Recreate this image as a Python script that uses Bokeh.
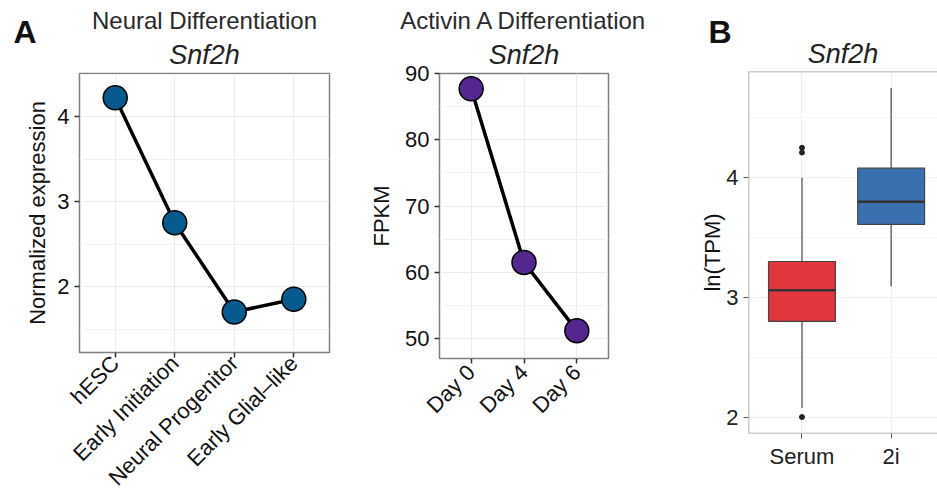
import numpy as np
from bokeh.plotting import figure
from bokeh.layouts import row
from bokeh.models import Range1d, FixedTicker, Span, Title
from bokeh.embed import file_html
from bokeh.resources import INLINE

# ---------------- data ----------------
neural_stages = ["hESC", "Early Initiation", "Neural Progenitor", "Early Glial\u2013like"]
neural_expr = [4.22, 2.75, 1.70, 1.85]
neural_yticks = [2, 3, 4]
neural_yminor = [1.5, 2.5, 3.5, 4.5]

activin_days = ["Day 0", "Day 4", "Day 6"]
activin_fpkm = [87.7, 61.5, 51.2]
activin_yticks = [50, 60, 70, 80, 90]
activin_yminor = [45, 55, 65, 75, 85]

conditions = ["Serum", "2i"]
box_q1 = [2.80, 3.61]
box_median = [3.06, 3.80]
box_q3 = [3.30, 4.08]
whisker_low = [2.075, 3.09]
whisker_high = [4.00, 4.75]
outlier_condition = ["Serum", "Serum", "Serum"]
outlier_value = [4.25, 4.21, 2.00]
box_yticks = [2, 3, 4]
box_yminor = [2.5, 3.5, 4.5]
box_colors = ["#e0363c", "#3a6fb0"]

FONT = "Liberation Sans"
TICK_SIZE = "22px"


def style(p, border="#7f7f7f", grid="#ebebeb", minor="#f2f2f2", tickcol="#333333"):
    p.background_fill_color = "white"
    p.border_fill_color = "white"
    p.outline_line_color = border
    p.outline_line_width = 1.5
    p.xgrid.grid_line_color = grid
    p.ygrid.grid_line_color = grid
    p.ygrid.minor_grid_line_color = minor
    for ax in p.axis:
        ax.axis_line_color = None
        ax.major_tick_out = 5
        ax.major_tick_in = 0
        ax.minor_tick_out = 0
        ax.minor_tick_in = 0
        ax.major_tick_line_color = tickcol
        ax.major_tick_line_width = 1.5
        ax.major_label_text_font = FONT
        ax.major_label_text_font_size = TICK_SIZE
        ax.major_label_text_color = "#111111"
        ax.major_label_standoff = 5
        ax.axis_label_text_font = FONT
        ax.axis_label_text_font_size = "22px"
        ax.axis_label_text_font_style = "normal"
        ax.axis_label_text_color = "#111111"
        ax.axis_label_standoff = 8


def gene_title(standoff):
    return Title(text="Snf2h", text_font=FONT, text_font_size="27px",
                 text_font_style="italic", text_color="#222222",
                 align="center", standoff=standoff)


def letter_title(text, offset, standoff):
    return Title(text=text, text_font=FONT, text_font_size="32px",
                 text_font_style="bold", text_color="#111111",
                 align="left", offset=offset, standoff=standoff)


def main_title(p, text, standoff):
    p.title.text = text
    p.title.text_font = FONT
    p.title.text_font_size = "24px"
    p.title.text_font_style = "normal"
    p.title.text_color = "#2a2a2a"
    p.title.align = "center"
    p.title.standoff = standoff


# ---------------- panel A1 ----------------
nx = list(range(len(neural_stages)))
p1 = figure(width=345, height=502, output_backend="svg", toolbar_location=None,
            x_range=Range1d(-0.6, len(neural_stages) - 1 + 0.6),
            y_range=Range1d(1.224, 4.506), frame_align=False,
            min_border_left=79, min_border_right=16, min_border_top=73, min_border_bottom=147)
style(p1)
p1.xaxis.ticker = FixedTicker(ticks=nx)
p1.xaxis.major_label_overrides = {i: s for i, s in enumerate(neural_stages)}
p1.xaxis.major_label_orientation = np.pi / 4
p1.xaxis.major_label_standoff = 2
p1.yaxis.ticker = FixedTicker(ticks=neural_yticks, minor_ticks=neural_yminor)
p1.yaxis.axis_label = "Normalized expression"
p1.yaxis.axis_label_standoff = 4
p1.line(nx, neural_expr, line_width=3.5, line_color="black")
p1.scatter(nx, neural_expr, size=24, fill_color="#065a8d", line_color="black", line_width=1.5)
p1.add_layout(gene_title(7), "above")
p1.add_layout(letter_title("A", -66, -30), "above")
main_title(p1, "Neural Differentiation", -14)

# ---------------- panel A2 ----------------
ax_ = list(range(len(activin_days)))
p2 = figure(width=315, height=502, output_backend="svg", toolbar_location=None,
            x_range=Range1d(-0.6, len(activin_days) - 1 + 0.6),
            y_range=Range1d(47.0, 90.0), frame_align=False,
            min_border_left=94, min_border_right=52, min_border_top=73, min_border_bottom=144)
style(p2)
p2.xaxis.ticker = FixedTicker(ticks=ax_)
p2.xaxis.major_label_overrides = {i: s for i, s in enumerate(activin_days)}
p2.xaxis.major_label_orientation = np.pi / 4
p2.yaxis.ticker = FixedTicker(ticks=activin_yticks, minor_ticks=activin_yminor)
p2.yaxis.axis_label = "FPKM"
p2.line(ax_, activin_fpkm, line_width=3.5, line_color="black")
p2.scatter(ax_, activin_fpkm, size=24, fill_color="#54278f", line_color="black", line_width=1.5)
p2.add_layout(gene_title(7), "above")
main_title(p2, "Activin A Differentiation", 1)

# ---------------- panel B ----------------
bx = np.arange(len(conditions))
p3 = figure(width=277, height=502, output_backend="svg", toolbar_location=None,
            x_range=Range1d(-0.6, 1.52),
            y_range=Range1d(1.8625, 4.8875), frame_align=False,
            min_border_left=88, min_border_right=0, min_border_top=71, min_border_bottom=69)
style(p3, border=None, grid="#eeeeee", minor="#f5f5f5", tickcol="#555555")
p3.outline_line_color = None
p3.xaxis.ticker = FixedTicker(ticks=list(bx))
p3.xaxis.major_label_overrides = {i: s for i, s in enumerate(conditions)}
p3.yaxis.ticker = FixedTicker(ticks=box_yticks, minor_ticks=box_yminor)
p3.yaxis.axis_label = "ln(TPM)"
p3.yaxis.axis_label_standoff = -2
for ax in p3.axis:
    ax.major_tick_line_width = 1
    ax.major_label_text_color = "#222222"
for loc, dim in [(p3.y_range.start, "width"), (p3.y_range.end, "width"), (p3.x_range.start, "height")]:
    p3.add_layout(Span(location=loc, dimension=dim, line_color="#999999", line_width=1.5))

box_w = 0.75
p3.segment(x0=bx, x1=bx, y0=box_q3, y1=whisker_high, line_color="#555555", line_width=1.3)
p3.segment(x0=bx, x1=bx, y0=box_q1, y1=whisker_low, line_color="#555555", line_width=1.3)
p3.vbar(x=bx, width=box_w, bottom=box_q1, top=box_q3, fill_color=box_colors,
        line_color="#444444", line_width=1.2)
p3.segment(x0=bx - box_w / 2, x1=bx + box_w / 2, y0=box_median, y1=box_median,
           line_color="#333333", line_width=2.5)
ox = [conditions.index(c) for c in outlier_condition]
p3.scatter(ox, outlier_value, size=5, fill_color="#222222", line_color="#222222")
p3.add_layout(gene_title(6), "above")
p3.title = letter_title("B", -40, -32)

layout = row(p1, p2, p3, spacing=0)
open("out.html", "w").write(file_html(layout, INLINE))
